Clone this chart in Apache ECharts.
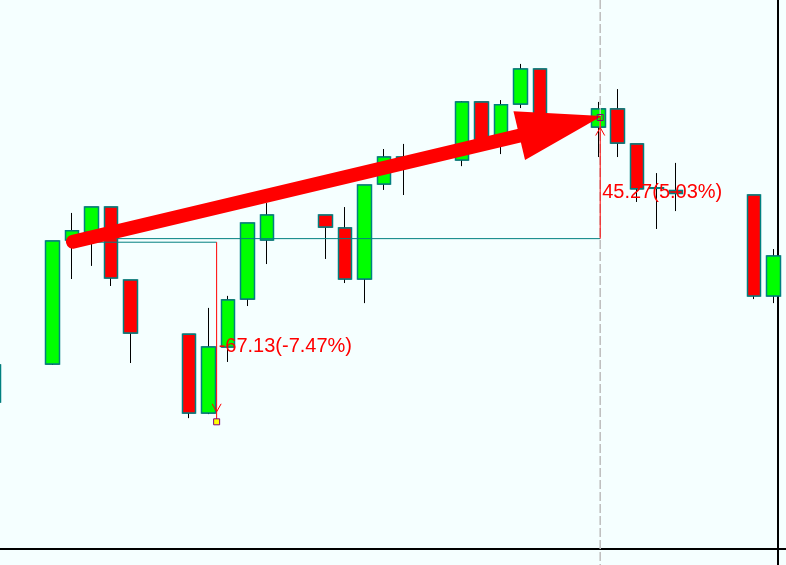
<!DOCTYPE html>
<html><head><meta charset="utf-8">
<script src="https://cdn.jsdelivr.net/npm/echarts@6/dist/echarts.min.js"></script>
<style>html,body{margin:0;padding:0;background:#f5ffff}#c{width:786px;height:565px}</style>
</head><body><div id="c"></div>
<script>
// Category days (weekends / holidays have no candle)
const dates = ['2021-01-01','2021-01-02','2021-01-03','2021-01-04','2021-01-05','2021-01-06','2021-01-07',
  '2021-01-08','2021-01-09','2021-01-10','2021-01-11','2021-01-12','2021-01-13','2021-01-14',
  '2021-01-15','2021-01-16','2021-01-17','2021-01-18','2021-01-19','2021-01-20','2021-01-21',
  '2021-01-22','2021-01-23','2021-01-24','2021-01-25','2021-01-26','2021-01-27','2021-01-28',
  '2021-01-29','2021-01-30','2021-01-31','2021-02-01','2021-02-02','2021-02-03','2021-02-04',
  '2021-02-05','2021-02-06','2021-02-07','2021-02-08','2021-02-09','2021-02-10','2021-02-11'];
const opens  = [838.9,null,null,853.1,899.5,902.5,911.8,884.5,null,null,864.3,834.8,859.5,877.4,899.5,null,null,908.8,904.0,884.9,920.4,930.5,null,null,929.4,951.1,936.9,950.3,963.4,null,null,941.7,948.5,935.4,919.0,918.0,null,null,null,916.3,878.6,null];
const closes = [852.8,null,null,899.1,902.9,911.8,885.3,864.7,null,null,834.8,859.5,877.1,905.8,908.8,null,null,904.3,884.9,920.0,930.5,927.9,null,null,951.1,936.9,950.0,963.4,940.6,null,null,948.5,935.7,918.6,918.8,916.9,null,null,null,878.6,893.5,null];
const lows   = [837.8,null,null,852.8,884.9,889.8,882.3,853.5,null,null,832.9,834.4,853.9,874.8,890.5,null,null,892.4,883.4,875.9,918.2,916.3,null,null,927.1,933.9,931.6,948.8,938.7,null,null,930.5,930.5,913.7,903.6,910.3,null,null,null,877.4,875.9,null];
const highs  = [854.6,null,null,899.1,909.6,911.8,911.8,884.5,null,null,864.3,874.1,878.6,905.8,913.3,null,null,908.8,911.8,920.0,933.5,935.4,null,null,951.4,951.1,951.8,965.3,963.4,null,null,951.1,955.9,935.4,924.5,928.3,null,null,null,916.3,896.1,null];

// Drawing-tool annotations, in data coordinates [category index, price]
const measure1From = [4, 898.66], measure1To = [11.42, 831.53];
const measure2From = [4, 900.00], measure2To = [31.1, 945.27];
const arrowFrom = [4.05, 898.85], arrowTo = [31.19, 945.84];
const crosshairIndex = 31.1;

const ohlc = dates.map((d, i) => opens[i] == null ? '-' : [opens[i], closes[i], lows[i], highs[i]]);
const bodies = dates.map((d, i) => opens[i] == null ? '-' :
  [opens[i], closes[i], Math.min(opens[i], closes[i]), Math.max(opens[i], closes[i])]);

function renderAnno(params, api) {
  const pt = (i, v) => {
    const f = Math.floor(i);
    const c0 = api.coord([f, v]), c1 = api.coord([f + 1, v]);
    return [c0[0] + (i - f) * (c1[0] - c0[0]), c0[1]];
  };
  const cs = params.coordSys;
  const els = [];
  const xc = pt(crosshairIndex, 900)[0];
  els.push({type: 'line', shape: {x1: xc, y1: cs.y, x2: xc, y2: cs.y + cs.height},
    style: {stroke: '#bdbdbd', lineWidth: 1.5, lineDash: [9, 3]}});
  const texts = [], marks = [];
  function measure(from, to, sqFill) {
    const p0 = pt(from[0], from[1]), p1 = pt(to[0], to[1]);
    const down = to[1] < from[1];
    const s = down ? -1 : 1;
    els.push({type: 'line', shape: {x1: p0[0], y1: p0[1], x2: p1[0], y2: p0[1]},
      style: {stroke: '#008080', lineWidth: 1}});
    els.push({type: 'line', shape: {x1: p1[0], y1: p0[1], x2: p1[0], y2: p1[1]},
      style: {stroke: '#ff0000', lineWidth: 1}});
    marks.push({type: 'polyline', shape: {points: [[p1[0] - 4.5, p1[1] + s * 18], [p1[0], p1[1] + s * 10], [p1[0] + 4.5, p1[1] + s * 18]]},
      style: {stroke: '#ff0000', lineWidth: 1, fill: null}});
    marks.push({type: 'rect', shape: {x: p1[0] - 3, y: p1[1] - 3, width: 6, height: 6},
      style: {stroke: '#800080', lineWidth: 1, fill: sqFill}});
    const diff = to[1] - from[1];
    const pct = diff / from[1] * 100;
    texts.push({type: 'text', x: p1[0] + 2, y: (p0[1] + p1[1]) / 2 + 14,
      style: {text: diff.toFixed(2) + '(' + pct.toFixed(2) + '%)', fill: '#ff0000',
        font: '20px "Liberation Sans", Arial, sans-serif', align: 'left', verticalAlign: 'middle'}});
  }
  measure(measure1From, measure1To, '#ffff00');
  measure(measure2From, measure2To, null);
  // big arrow
  const a0 = pt(arrowFrom[0], arrowFrom[1]), a1 = pt(arrowTo[0], arrowTo[1]);
  const dx = a1[0] - a0[0], dy = a1[1] - a0[1], len = Math.hypot(dx, dy);
  const ux = dx / len, uy = dy / len;
  const headLen = 85, headHalf = 25;
  const bx = a1[0] - ux * headLen, by = a1[1] - uy * headLen;
  els.push({type: 'line', shape: {x1: a0[0], y1: a0[1], x2: bx + ux * 3, y2: by + uy * 3},
    style: {stroke: '#ff0000', lineWidth: 14, lineCap: 'round'}});
  els.push({type: 'polygon', shape: {points: [a1, [bx - uy * headHalf, by + ux * headHalf], [bx + uy * headHalf, by - ux * headHalf]]},
    style: {fill: '#ff0000'}});
  return {type: 'group', children: els.concat(marks, texts)};
}

const chart = echarts.init(document.getElementById('c'), null, {renderer: 'canvas'});
chart.setOption({
  animation: false,
  backgroundColor: '#f5ffff',
  grid: {left: -15.7, right: -16.9, top: 0, bottom: 0, containLabel: false, outerBoundsMode: 'none'},
  xAxis: {type: 'category', data: dates, boundaryGap: true, offset: -16.5,
    axisLine: {show: true, onZero: false, lineStyle: {color: '#000', width: 2}},
    axisTick: {show: false}, axisLabel: {show: false}, splitLine: {show: false}},
  yAxis: {type: 'value', position: 'right', offset: -24.9, min: 778, max: 989.2, scale: true,
    axisLine: {show: true, onZero: false, lineStyle: {color: '#000', width: 2}},
    axisTick: {show: false}, axisLabel: {show: false}, splitLine: {show: false}},
  series: [
    {type: 'candlestick', data: ohlc, barWidth: 14, clip: false,
      itemStyle: {color: '#00ff00', color0: '#ff0000', borderColor: '#000', borderColor0: '#000', borderWidth: 1}},
    {type: 'candlestick', data: bodies, barWidth: 14, clip: false,
      itemStyle: {color: '#00ff00', color0: '#ff0000', borderColor: '#008080', borderColor0: '#008080', borderWidth: 1.5}},
    {type: 'custom', data: [[0, 900]], renderItem: renderAnno, clip: false, z: 5, silent: true}
  ]
});
</script></body></html>
